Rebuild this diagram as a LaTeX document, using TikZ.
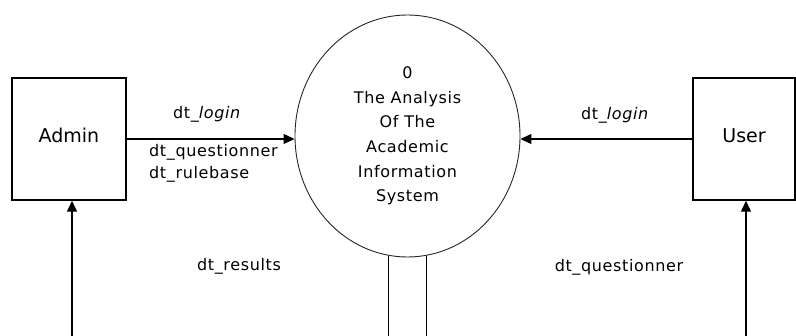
\documentclass[tikz,border=0pt]{standalone}
\usepackage{fontspec}
\setmainfont{DejaVu Sans}[LetterSpace=4]
\newfontfamily\entityfont{DejaVu Sans}
\usetikzlibrary{shapes.geometric,arrows.meta}
\begin{document}
\begin{tikzpicture}[x=1pt,y=-1pt,
  entity/.style={draw, line width=1.4pt, minimum width=114pt, minimum height=122pt,
    inner sep=0pt, font=\entityfont\fontsize{19}{22}\selectfont},
  process/.style={draw=black!85, ellipse, line width=0.9pt, minimum width=225pt,
    minimum height=242pt, inner sep=0pt, align=center,
    font=\fontsize{16}{24.6}\selectfont},
  flow/.style={-{Triangle[length=11pt,width=10pt]}, line width=1.2pt},
  store/.style={line width=1.2pt},
  lbl/.style={font=\fontsize{16}{19}\selectfont, inner sep=0pt, anchor=base}]

\useasboundingbox (0,0) rectangle (796,336);

% external entities
\node[entity] (admin) at (69,139) {\raisebox{7pt}{Admin}};
\node[entity, minimum width=102pt] (user) at (744,139) {\raisebox{7pt}{User}};

% the single process of the context diagram
\node[process] (proc) at (407.5,136)
  {0\\The Analysis\\Of The\\Academic\\Information\\System};

% free ends of the flows leaving the lower edge
\coordinate (adminin) at (72,336);
\coordinate (userin) at (746,336);
\coordinate (storeleft) at (388,336);
\coordinate (storeright) at (426,336);

% data flows
\draw[flow] (admin.east) -- (admin.east -| proc.west);
\draw[flow] (user.west) -- (user.west -| proc.east);
\draw[flow] (adminin) -- (adminin |- admin.south);
\draw[flow] (userin) -- (userin |- user.south);
\draw[store] (proc.-99.3) -- (proc.-99.3 |- storeleft);
\draw[store] (proc.-81.2) -- (proc.-81.2 |- storeright);

% flow labels
\node[lbl] (loginA) at (207,119) {dt\_\textit{login}};
\node[lbl, anchor=base west] (questA) at (149,157) {dt\_questionner};
\node[lbl, anchor=base west] (ruleA) at (149,179) {dt\_rulebase};
\node[lbl] (loginU) at (615,120) {dt\_\textit{login}};
\node[lbl] (resultsA) at (239,271) {dt\_results};
\node[lbl] (questU) at (619,272) {dt\_questionner};
\end{tikzpicture}
\end{document}
